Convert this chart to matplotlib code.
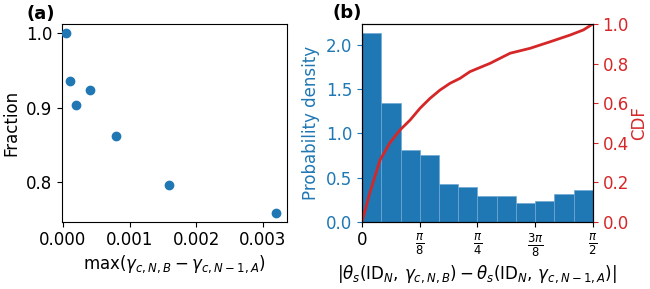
import numpy as np
import matplotlib
matplotlib.use('Agg')
import matplotlib.pyplot as plt

# panel (a): fraction vs max gamma difference
gamma_diff = [0.00005, 0.0001, 0.0002, 0.0004, 0.0008, 0.0016, 0.0032]
fraction = [1.0, 0.935, 0.904, 0.924, 0.862, 0.796, 0.759]

# panel (b): histogram of angle differences (12 bins on [0, pi/2])
n_bins = 12
density = [2.133, 1.345, 0.807, 0.750, 0.424, 0.390,
           0.292, 0.292, 0.212, 0.231, 0.314, 0.356]

cdf_x = [0.0, 0.0545, 0.1226, 0.1906, 0.2587, 0.327, 0.395, 0.463,
         0.531, 0.599, 0.667, 0.735, 0.8715, 1.0077, 1.1439, 1.280, 1.416,
         1.507, 1.5708]
cdf_y = [0.0, 0.150, 0.312, 0.400, 0.464, 0.514, 0.574, 0.624,
         0.666, 0.700, 0.725, 0.759, 0.801, 0.852, 0.877, 0.910, 0.944,
         0.970, 1.0]

blue = '#1f77b4'
red = '#d62728'
fs = 12

fig = plt.figure(figsize=(6.5, 2.89), dpi=100)
ax1 = fig.add_axes([0.0958, 0.233, 0.345, 0.684])
ax2 = fig.add_axes([0.557, 0.233, 0.355, 0.684])

#### (a)
ax1.scatter(gamma_diff, fraction, color=blue, s=36, zorder=3)
ax1.set_xlim(left=-0.00001)
ax1.set_xticks([0.0, 0.001, 0.002, 0.003])
ax1.set_xticklabels(['0.000', '0.001', '0.002', '0.003'])
ax1.set_yticks([0.8, 0.9, 1.0])
ax1.set_xlabel(r'max$(\gamma_{c,N,B} - \gamma_{c,N-1,A})$', fontsize=fs, labelpad=3)
ax1.set_ylabel('Fraction', fontsize=fs)
ax1.tick_params(labelsize=fs)

#### (b)
edges = np.linspace(0, np.pi / 2, n_bins + 1)
ax2.bar(edges[:-1], density, width=np.diff(edges), align='edge',
        color=blue, edgecolor='#6fa8d6', linewidth=0.5)
ax2.set_xlim(0, np.pi / 2)
ax2.set_xticks([0, np.pi / 8, np.pi / 4, 3 * np.pi / 8, np.pi / 2])
ax2.set_xticklabels(['0', r'$\frac{\pi}{8}$', r'$\frac{\pi}{4}$',
                     r'$\frac{3\pi}{8}$', r'$\frac{\pi}{2}$'])
ax2.set_yticks([0.0, 0.5, 1.0, 1.5, 2.0])
ax2.set_ylabel('Probability density', color=blue, fontsize=fs)
ax2.tick_params(axis='y', colors=blue, labelsize=fs)
ax2.tick_params(axis='x', labelsize=fs)
ax2.set_xlabel(r'$|\theta_s(\mathrm{ID}_N,\, \gamma_{c,N,B}) - \theta_s(\mathrm{ID}_N,\, \gamma_{c,N-1,A})|$',
               fontsize=fs, labelpad=3)

ax3 = ax2.twinx()
ax3.plot(cdf_x, cdf_y, color=red, linewidth=2)
ax3.set_ylim(0, 1)
ax3.set_yticks([0.0, 0.2, 0.4, 0.6, 0.8, 1.0])
ax3.set_ylabel('CDF', color=red, fontsize=fs, labelpad=1)
ax3.tick_params(axis='y', colors=red, labelsize=fs)

fig.text(26 / 650, 1 - 14 / 289, '(a)', fontsize=13, fontweight='bold', va='center')
fig.text(332 / 650, 1 - 13 / 289, '(b)', fontsize=13, fontweight='bold', va='center')

fig.savefig('out.png', dpi=100)
